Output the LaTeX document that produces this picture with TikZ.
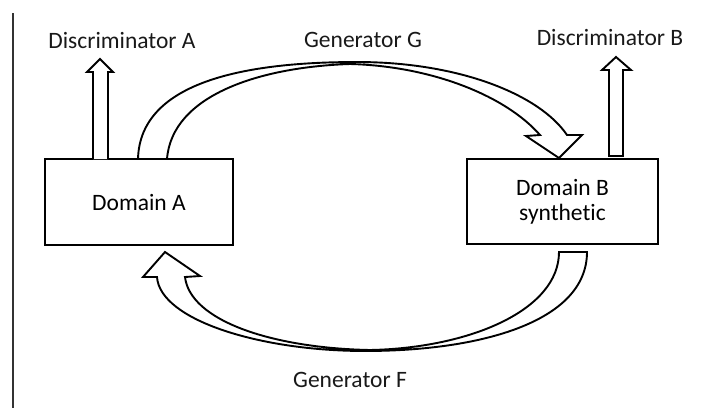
\documentclass[tikz,border=0pt]{standalone}
\usepackage{fontspec}
\setmainfont{Carlito}[Ligatures=NoCommon]
\begin{document}
\begin{tikzpicture}[x=1pt,y=-1pt,
  lbl/.style={inner sep=0pt,font=\fontsize{23.5}{25}\selectfont,text=black!90},
  domainbox/.style={draw,line width=1.9pt,inner sep=0pt,align=center,font=\fontsize{23.5}{25}\selectfont},
  shape line/.style={draw,line width=1.9pt,line join=miter,fill=white}]
\useasboundingbox (0,0) rectangle (702,408);
% left rule
\draw[line width=1.9pt,black!80] (12.7,13) -- (12.7,408);
% labels
\node[lbl] (discA) at (122,40) {Discriminator A};
\node[lbl] (genG) at (363,40) {Generator G};
\node[lbl] (discB) at (610,37) {Discriminator B};
\node[lbl] (genF) at (350,380) {Generator F};
% domain boxes
\node[domainbox,minimum width=188pt,minimum height=86pt] (domA) at (139,202) {Domain A};
\node[domainbox,minimum width=191pt,minimum height=85pt] (domB) at (562.5,201.5) {Domain B\\synthetic};
% discriminator arrows
\path[shape line] (93,159) -- (93,72) -- (87,72) -- (100,59) -- (113,72) -- (108,72) -- (108,159);
\path[shape line] (609,156) -- (609,70) -- (602,70) -- (616,57) -- (631,70) -- (623,70) -- (623,156) -- cycle;
% generator G arrow
\path[shape line] (138,159) .. controls (140,80) and (250,62) .. (357,62)
  .. controls (460,62) and (540,95) .. (567,135)
  -- (582,135) -- (559,158) -- (526,136) -- (540,135)
  .. controls (505,95) and (430,66) .. (350,64)
  .. controls (260,67) and (172,95) .. (167,159) -- cycle;
% generator F arrow
\path[shape line] (587,252) .. controls (587,322) and (480,351) .. (365,351)
  .. controls (260,351) and (160,320) .. (157,277)
  -- (143,277) -- (165,252) -- (200,276) -- (185,277)
  .. controls (190,320) and (270,348) .. (370,350)
  .. controls (470,348) and (559,310) .. (559,252) -- cycle;
\end{tikzpicture}
\end{document}
